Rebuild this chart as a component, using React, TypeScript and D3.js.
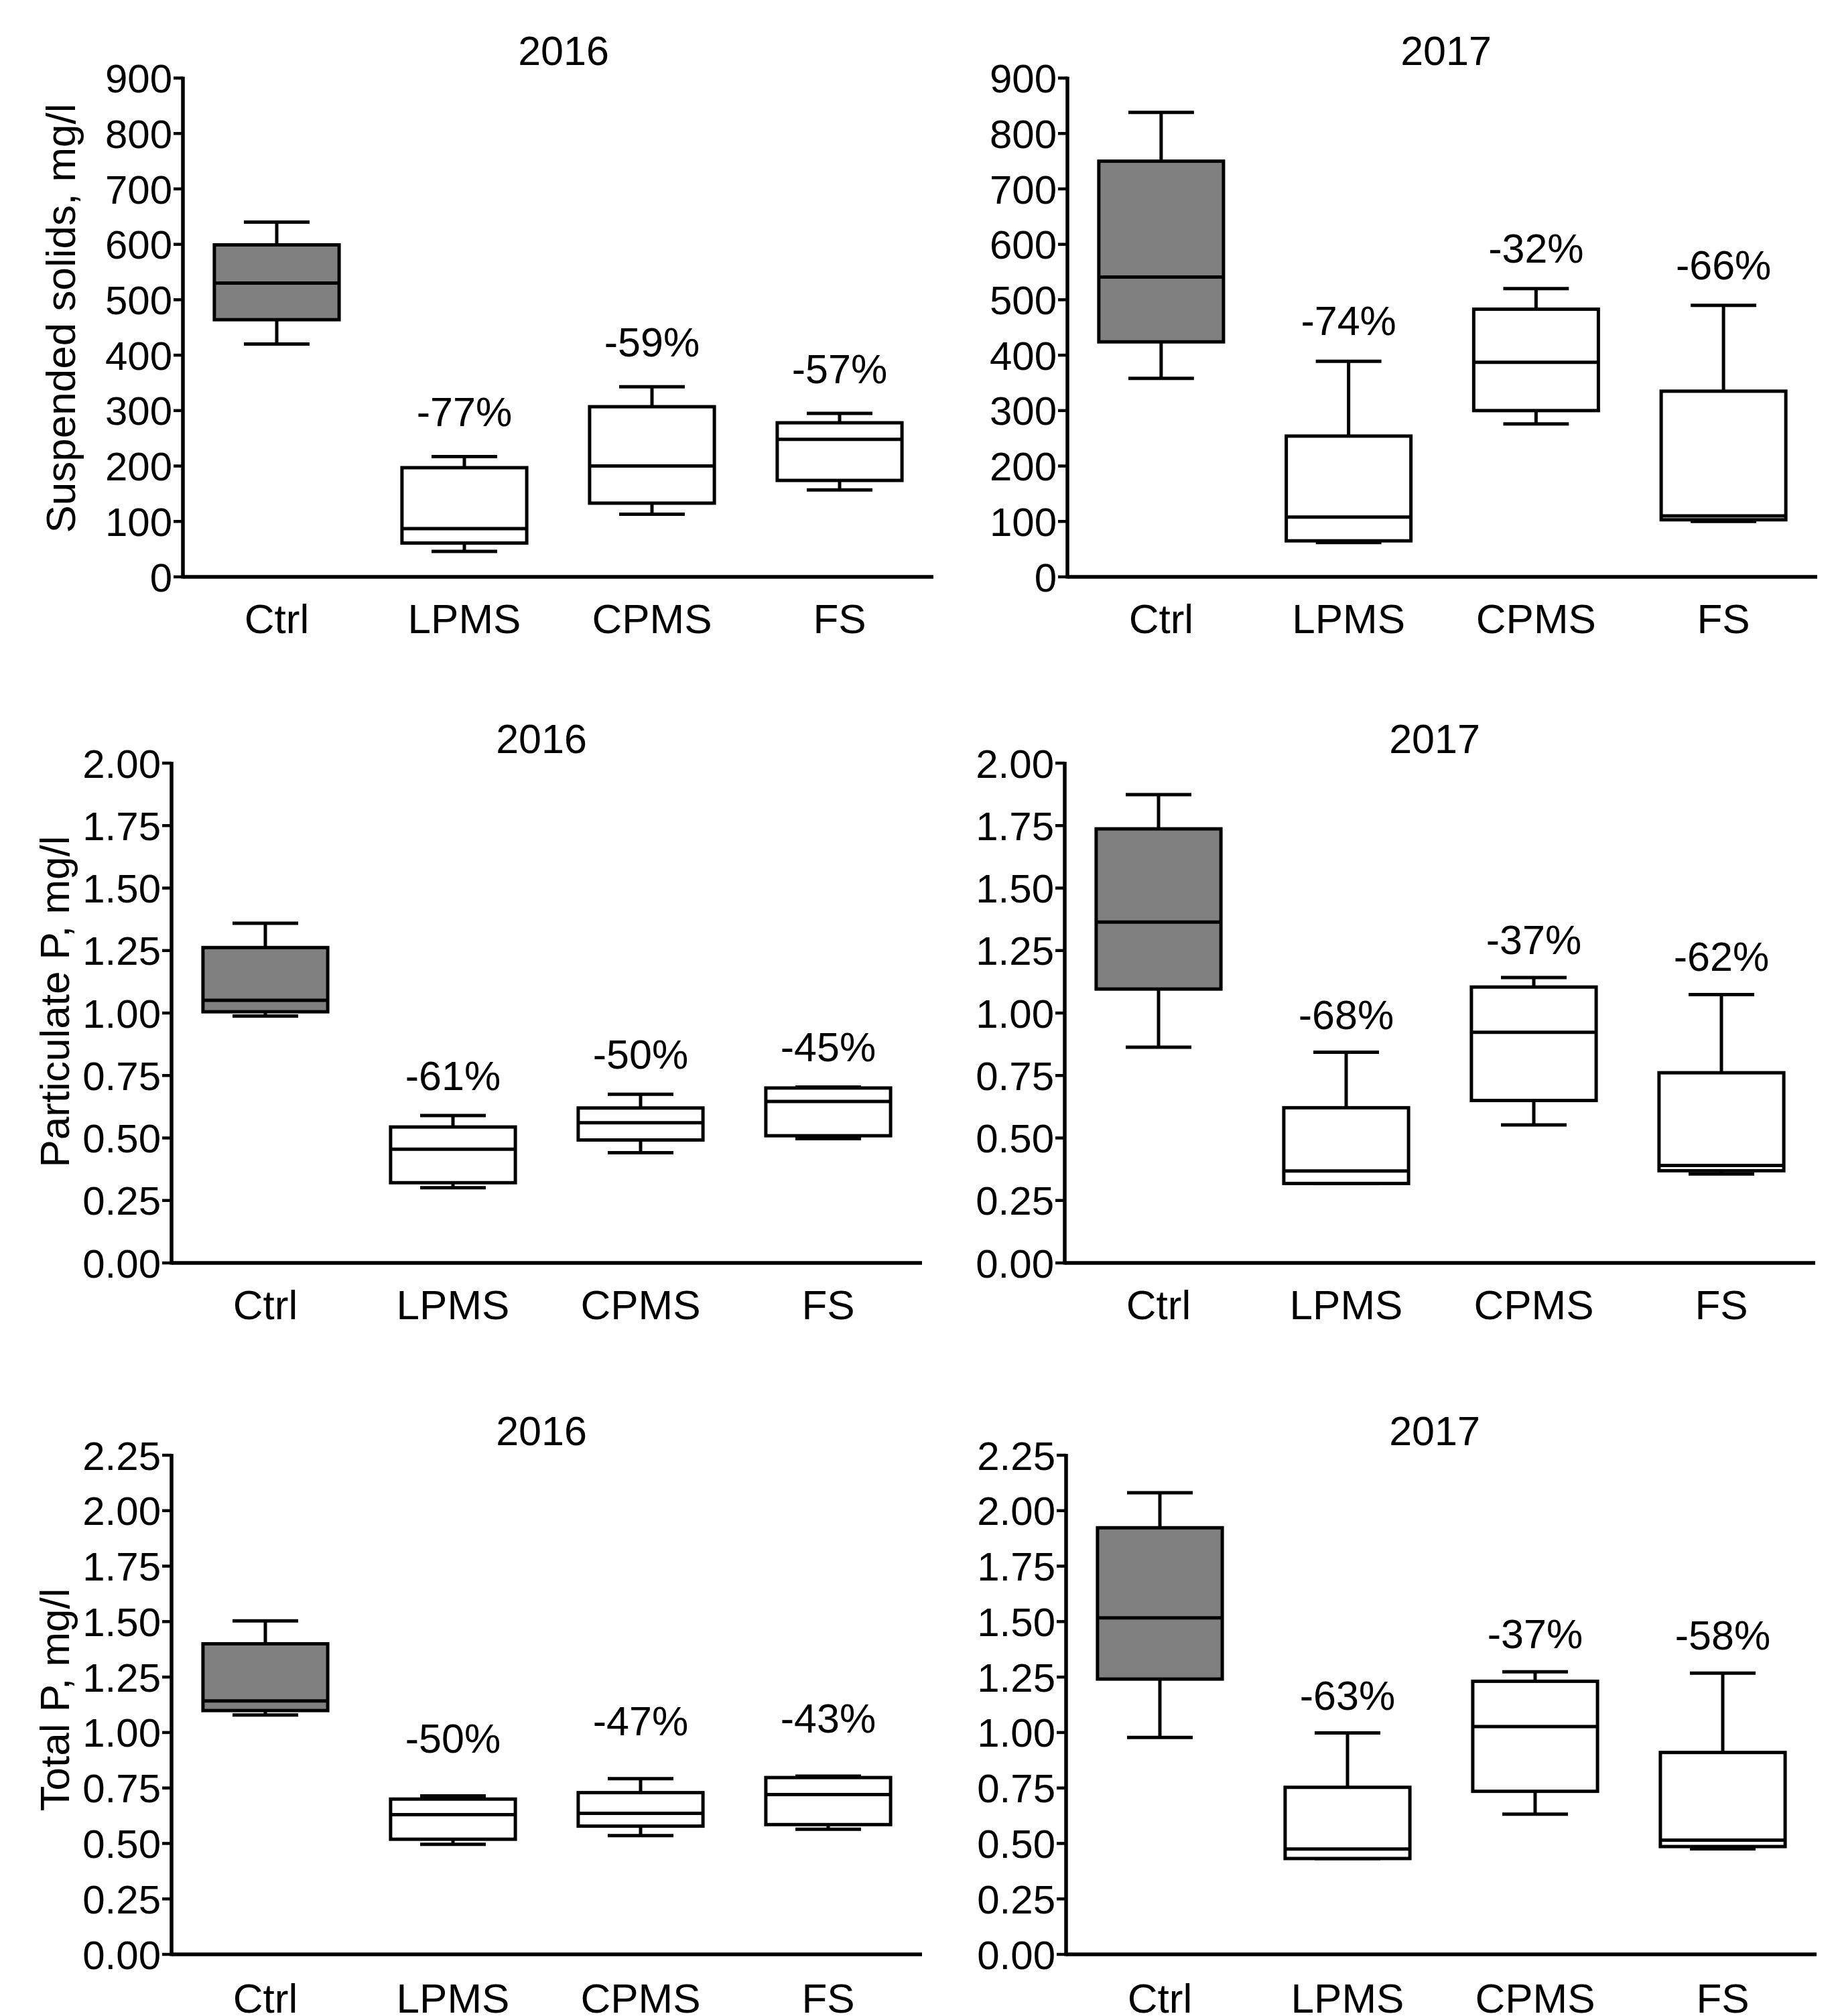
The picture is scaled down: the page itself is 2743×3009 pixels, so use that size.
import React from "react";
import * as d3 from "d3";

// ---------- data ----------
const categories = ["Ctrl", "LPMS", "CPMS", "FS"];

// each row: [min, q1, median, q3, max] per category
const ss2016 = [
  [420, 464, 530, 599, 640],
  [46, 61, 87, 197, 217],
  [113, 133, 200, 307, 343],
  [157, 174, 248, 278, 295],
];
const ss2017 = [
  [358, 424, 541, 750, 838],
  [62, 65, 108, 254, 389],
  [276, 300, 387, 483, 520],
  [100, 103, 110, 335, 490],
];
const pp2016 = [
  [0.988, 1.005, 1.051, 1.262, 1.359],
  [0.301, 0.321, 0.455, 0.544, 0.59],
  [0.441, 0.492, 0.561, 0.62, 0.675],
  [0.497, 0.509, 0.646, 0.7, 0.704],
];
const pp2017 = [
  [0.863, 1.096, 1.364, 1.737, 1.874],
  [0.318, 0.318, 0.368, 0.621, 0.843],
  [0.552, 0.65, 0.923, 1.104, 1.142],
  [0.356, 0.369, 0.39, 0.761, 1.074],
];
const tp2016 = [
  [1.079, 1.099, 1.142, 1.4, 1.503],
  [0.496, 0.519, 0.63, 0.7, 0.714],
  [0.535, 0.578, 0.636, 0.729, 0.792],
  [0.564, 0.585, 0.72, 0.797, 0.803],
];
const tp2017 = [
  [0.978, 1.241, 1.517, 1.923, 2.081],
  [0.432, 0.432, 0.475, 0.753, 0.998],
  [0.632, 0.735, 1.027, 1.231, 1.274],
  [0.476, 0.486, 0.515, 0.91, 1.268],
];

const ss2016Pct = ["", "-77%", "-59%", "-57%"];
const ss2017Pct = ["", "-74%", "-32%", "-66%"];
const pp2016Pct = ["", "-61%", "-50%", "-45%"];
const pp2017Pct = ["", "-68%", "-37%", "-62%"];
const tp2016Pct = ["", "-50%", "-47%", "-43%"];
const tp2017Pct = ["", "-63%", "-37%", "-58%"];

const ssTicks = [0, 100, 200, 300, 400, 500, 600, 700, 800, 900];
const ppTicks = [0, 0.25, 0.5, 0.75, 1, 1.25, 1.5, 1.75, 2];
const tpTicks = [0, 0.25, 0.5, 0.75, 1, 1.25, 1.5, 1.75, 2, 2.25];

const ssLabel = "Suspended solids, mg/l";
const ppLabel = "Particulate P, mg/l";
const tpLabel = "Total P, mg/l";

// ---------- layout ----------
const W = 2743;
const H = 3009;
const FONT = "'Liberation Sans', Arial, Helvetica, sans-serif";

const fmtInt = d3.format("d");
const fmt2 = d3.format(".2f");

const panels = [
  { data: ss2016, pct: ss2016Pct, title: "2016", ticks: ssTicks, fmt: fmtInt, yLabel: ssLabel,
    x0: 273, x1: 1393, yTop: 116.5, y0: 861, titleX: 841, titleY: 97, yLabelX: 112, yLabelY: 475, labOff: 45, catDy: 84 },
  { data: ss2017, pct: ss2017Pct, title: "2017", ticks: ssTicks, fmt: fmtInt, yLabel: null,
    x0: 1593, x1: 2712, yTop: 116.5, y0: 861, titleX: 2158, titleY: 97, labOff: 39, catDy: 84 },
  { data: pp2016, pct: pp2016Pct, title: "2016", ticks: ppTicks, fmt: fmt2, yLabel: ppLabel,
    x0: 256, x1: 1376, yTop: 1139, y0: 1885, titleX: 808, titleY: 1124, yLabelX: 103, yLabelY: 1495, labOff: 38, catDy: 84 },
  { data: pp2017, pct: pp2017Pct, title: "2017", ticks: ppTicks, fmt: fmt2, yLabel: null,
    x0: 1589, x1: 2709, yTop: 1139, y0: 1885, titleX: 2141, titleY: 1124, labOff: 35, catDy: 84 },
  { data: tp2016, pct: tp2016Pct, title: "2016", ticks: tpTicks, fmt: fmt2, yLabel: tpLabel,
    x0: 256, x1: 1376, yTop: 2172, y0: 2917, titleX: 808, titleY: 2157, yLabelX: 103, yLabelY: 2537, labOff: 65, catDy: 87 },
  { data: tp2017, pct: tp2017Pct, title: "2017", ticks: tpTicks, fmt: fmt2, yLabel: null,
    x0: 1591, x1: 2711, yTop: 2172, y0: 2917, titleX: 2141, titleY: 2157, labOff: 35, catDy: 87 },
];

const SW = 5;

function Panel({ p }: { p: any }) {
  const x = d3.scaleBand().domain(categories).range([p.x0, p.x1]).padding(0);
  const tMax = p.ticks[p.ticks.length - 1];
  const y = d3.scaleLinear().domain([0, tMax]).range([p.y0, p.yTop]);
  const step = x.step();
  const boxW = step * 0.665;
  const capW = step * 0.35;

  return (
    <g>
      {/* title */}
      <text x={p.titleX} y={p.titleY} textAnchor="middle" fontSize={61} fontFamily={FONT}>
        {p.title}
      </text>
      {/* y label */}
      {p.yLabel && (
        <text
          transform={`translate(${p.yLabelX},${p.yLabelY}) rotate(-90)`}
          textAnchor="middle"
          fontSize={62}
          fontFamily={FONT}
        >
          {p.yLabel}
        </text>
      )}
      {/* y axis */}
      <line x1={p.x0} x2={p.x0} y1={p.yTop - 2} y2={p.y0 + 2.5} stroke="#000" strokeWidth={5.5} />
      {p.ticks.map((t: number) => (
        <g key={t}>
          <line x1={p.x0 - 14} x2={p.x0} y1={y(t)} y2={y(t)} stroke="#000" strokeWidth={4.5} />
          <text
            x={p.x0 - 16}
            y={y(t)}
            dy="0.36em"
            textAnchor="end"
            fontSize={60}
            fontFamily={FONT}
          >
            {p.fmt(t)}
          </text>
        </g>
      ))}
      {/* x axis */}
      <line x1={p.x0} x2={p.x1} y1={p.y0} y2={p.y0} stroke="#000" strokeWidth={5.5} />
      {categories.map((c) => (
        <text
          key={c}
          x={(x(c) as number) + step / 2}
          y={p.y0 + p.catDy}
          textAnchor="middle"
          fontSize={62}
          fontFamily={FONT}
        >
          {c}
        </text>
      ))}
      {/* boxes */}
      {p.data.map((d: number[], i: number) => {
        const cx = (x(categories[i]) as number) + step / 2;
        const [mn, q1, md, q3, mx] = d;
        return (
          <g key={i} stroke="#000" strokeWidth={SW}>
            <line x1={cx} x2={cx} y1={y(mx)} y2={y(q3)} />
            <line x1={cx} x2={cx} y1={y(q1)} y2={y(mn)} />
            <line x1={cx - capW / 2} x2={cx + capW / 2} y1={y(mx)} y2={y(mx)} />
            <line x1={cx - capW / 2} x2={cx + capW / 2} y1={y(mn)} y2={y(mn)} />
            <rect
              x={cx - boxW / 2}
              y={y(q3)}
              width={boxW}
              height={y(q1) - y(q3)}
              fill={i === 0 ? "#808080" : "#fff"}
            />
            <line x1={cx - boxW / 2} x2={cx + boxW / 2} y1={y(md)} y2={y(md)} />
            {p.pct[i] && (
              <text
                x={cx}
                y={y(mx) - p.labOff}
                textAnchor="middle"
                fontSize={61}
                fontFamily={FONT}
                stroke="none"
                fill="#000"
              >
                {p.pct[i]}
              </text>
            )}
          </g>
        );
      })}
    </g>
  );
}

export default function App() {
  return (
    <svg
      width={W}
      height={H}
      viewBox={`0 0 ${W} ${H}`}
      style={{ position: "absolute", left: 0, top: 0, background: "#fff" }}
    >
      <rect x={0} y={0} width={W} height={H} fill="#fff" />
      {panels.map((p, i) => (
        <Panel key={i} p={p} />
      ))}
    </svg>
  );
}
